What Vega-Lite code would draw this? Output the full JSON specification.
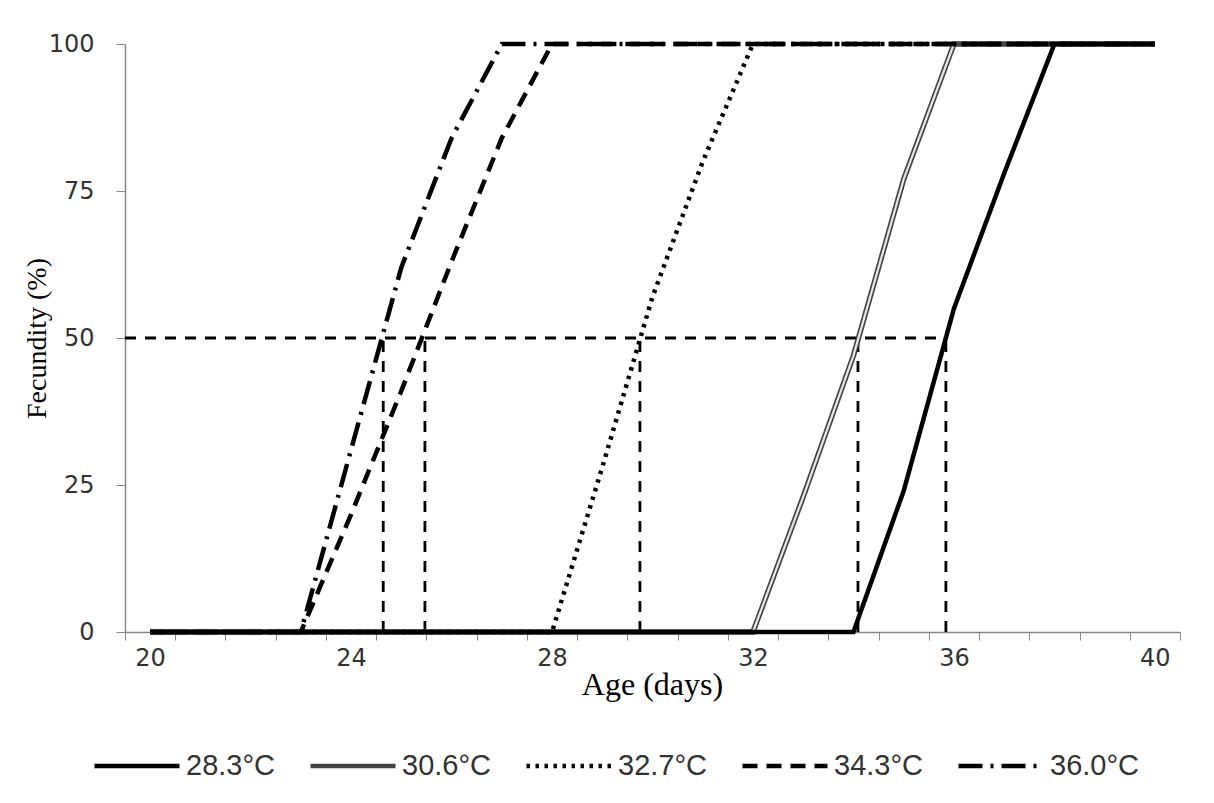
{
  "$schema": "https://vega.github.io/schema/vega-lite/v6.json",
  "autosize": {"type": "none"},
  "width": 1055,
  "height": 588,
  "padding": {"left": 125, "top": 44, "right": 34, "bottom": 171},
  "background": "white",
  "config": {
    "view": {"stroke": null},
    "axis": {"grid": false}
  },
  "datasets": {
    "curves": [
      {"series": "28.3°C", "day": 20, "fecundity": 0},
      {"series": "28.3°C", "day": 21, "fecundity": 0},
      {"series": "28.3°C", "day": 22, "fecundity": 0},
      {"series": "28.3°C", "day": 23, "fecundity": 0},
      {"series": "28.3°C", "day": 24, "fecundity": 0},
      {"series": "28.3°C", "day": 25, "fecundity": 0},
      {"series": "28.3°C", "day": 26, "fecundity": 0},
      {"series": "28.3°C", "day": 27, "fecundity": 0},
      {"series": "28.3°C", "day": 28, "fecundity": 0},
      {"series": "28.3°C", "day": 29, "fecundity": 0},
      {"series": "28.3°C", "day": 30, "fecundity": 0},
      {"series": "28.3°C", "day": 31, "fecundity": 0},
      {"series": "28.3°C", "day": 32, "fecundity": 0},
      {"series": "28.3°C", "day": 33, "fecundity": 0},
      {"series": "28.3°C", "day": 34, "fecundity": 0},
      {"series": "28.3°C", "day": 35, "fecundity": 24},
      {"series": "28.3°C", "day": 36, "fecundity": 55},
      {"series": "28.3°C", "day": 37, "fecundity": 78},
      {"series": "28.3°C", "day": 38, "fecundity": 100},
      {"series": "28.3°C", "day": 39, "fecundity": 100},
      {"series": "28.3°C", "day": 40, "fecundity": 100},
      {"series": "30.6°C", "day": 20, "fecundity": 0},
      {"series": "30.6°C", "day": 21, "fecundity": 0},
      {"series": "30.6°C", "day": 22, "fecundity": 0},
      {"series": "30.6°C", "day": 23, "fecundity": 0},
      {"series": "30.6°C", "day": 24, "fecundity": 0},
      {"series": "30.6°C", "day": 25, "fecundity": 0},
      {"series": "30.6°C", "day": 26, "fecundity": 0},
      {"series": "30.6°C", "day": 27, "fecundity": 0},
      {"series": "30.6°C", "day": 28, "fecundity": 0},
      {"series": "30.6°C", "day": 29, "fecundity": 0},
      {"series": "30.6°C", "day": 30, "fecundity": 0},
      {"series": "30.6°C", "day": 31, "fecundity": 0},
      {"series": "30.6°C", "day": 32, "fecundity": 0},
      {"series": "30.6°C", "day": 33, "fecundity": 23},
      {"series": "30.6°C", "day": 34, "fecundity": 47},
      {"series": "30.6°C", "day": 35, "fecundity": 77},
      {"series": "30.6°C", "day": 36, "fecundity": 100},
      {"series": "30.6°C", "day": 37, "fecundity": 100},
      {"series": "30.6°C", "day": 38, "fecundity": 100},
      {"series": "30.6°C", "day": 39, "fecundity": 100},
      {"series": "30.6°C", "day": 40, "fecundity": 100},
      {"series": "32.7°C", "day": 20, "fecundity": 0},
      {"series": "32.7°C", "day": 21, "fecundity": 0},
      {"series": "32.7°C", "day": 22, "fecundity": 0},
      {"series": "32.7°C", "day": 23, "fecundity": 0},
      {"series": "32.7°C", "day": 24, "fecundity": 0},
      {"series": "32.7°C", "day": 25, "fecundity": 0},
      {"series": "32.7°C", "day": 26, "fecundity": 0},
      {"series": "32.7°C", "day": 27, "fecundity": 0},
      {"series": "32.7°C", "day": 28, "fecundity": 0},
      {"series": "32.7°C", "day": 29, "fecundity": 28},
      {"series": "32.7°C", "day": 30, "fecundity": 57},
      {"series": "32.7°C", "day": 31, "fecundity": 80},
      {"series": "32.7°C", "day": 32, "fecundity": 100},
      {"series": "32.7°C", "day": 33, "fecundity": 100},
      {"series": "32.7°C", "day": 34, "fecundity": 100},
      {"series": "32.7°C", "day": 35, "fecundity": 100},
      {"series": "32.7°C", "day": 36, "fecundity": 100},
      {"series": "32.7°C", "day": 37, "fecundity": 100},
      {"series": "32.7°C", "day": 38, "fecundity": 100},
      {"series": "32.7°C", "day": 39, "fecundity": 100},
      {"series": "32.7°C", "day": 40, "fecundity": 100},
      {"series": "34.3°C", "day": 20, "fecundity": 0},
      {"series": "34.3°C", "day": 21, "fecundity": 0},
      {"series": "34.3°C", "day": 22, "fecundity": 0},
      {"series": "34.3°C", "day": 23, "fecundity": 0},
      {"series": "34.3°C", "day": 24, "fecundity": 20},
      {"series": "34.3°C", "day": 25, "fecundity": 41},
      {"series": "34.3°C", "day": 26, "fecundity": 63},
      {"series": "34.3°C", "day": 27, "fecundity": 84},
      {"series": "34.3°C", "day": 28, "fecundity": 100},
      {"series": "34.3°C", "day": 29, "fecundity": 100},
      {"series": "34.3°C", "day": 30, "fecundity": 100},
      {"series": "34.3°C", "day": 31, "fecundity": 100},
      {"series": "34.3°C", "day": 32, "fecundity": 100},
      {"series": "34.3°C", "day": 33, "fecundity": 100},
      {"series": "34.3°C", "day": 34, "fecundity": 100},
      {"series": "34.3°C", "day": 35, "fecundity": 100},
      {"series": "34.3°C", "day": 36, "fecundity": 100},
      {"series": "34.3°C", "day": 37, "fecundity": 100},
      {"series": "34.3°C", "day": 38, "fecundity": 100},
      {"series": "34.3°C", "day": 39, "fecundity": 100},
      {"series": "34.3°C", "day": 40, "fecundity": 100},
      {"series": "36.0°C", "day": 20, "fecundity": 0},
      {"series": "36.0°C", "day": 21, "fecundity": 0},
      {"series": "36.0°C", "day": 22, "fecundity": 0},
      {"series": "36.0°C", "day": 23, "fecundity": 0},
      {"series": "36.0°C", "day": 24, "fecundity": 31},
      {"series": "36.0°C", "day": 25, "fecundity": 62},
      {"series": "36.0°C", "day": 26, "fecundity": 84},
      {"series": "36.0°C", "day": 27, "fecundity": 100},
      {"series": "36.0°C", "day": 28, "fecundity": 100},
      {"series": "36.0°C", "day": 29, "fecundity": 100},
      {"series": "36.0°C", "day": 30, "fecundity": 100},
      {"series": "36.0°C", "day": 31, "fecundity": 100},
      {"series": "36.0°C", "day": 32, "fecundity": 100},
      {"series": "36.0°C", "day": 33, "fecundity": 100},
      {"series": "36.0°C", "day": 34, "fecundity": 100},
      {"series": "36.0°C", "day": 35, "fecundity": 100},
      {"series": "36.0°C", "day": 36, "fecundity": 100},
      {"series": "36.0°C", "day": 37, "fecundity": 100},
      {"series": "36.0°C", "day": 38, "fecundity": 100},
      {"series": "36.0°C", "day": 39, "fecundity": 100},
      {"series": "36.0°C", "day": 40, "fecundity": 100}
    ],
    "guides": [
      {"day_from": 19.5, "day_to": 35.84, "pct_from": 50, "pct_to": 50},
      {"day_from": 24.64, "day_to": 24.64, "pct_from": 0, "pct_to": 50},
      {"day_from": 25.47, "day_to": 25.47, "pct_from": 0, "pct_to": 50},
      {"day_from": 29.75, "day_to": 29.75, "pct_from": 0, "pct_to": 50},
      {"day_from": 34.09, "day_to": 34.09, "pct_from": 0, "pct_to": 50},
      {"day_from": 35.84, "day_to": 35.84, "pct_from": 0, "pct_to": 50}
    ]
  },
  "layer": [
    {
      "data": {"name": "guides"},
      "mark": {"type": "rule", "color": "black", "strokeWidth": 2.8, "strokeDash": [11, 9]},
      "encoding": {
        "x": {
          "field": "day_from", "type": "quantitative",
          "scale": {"domain": [19.5, 40.5], "nice": false, "zero": false},
          "axis": {
            "title": "Age (days)",
            "values": [19.5, 20.5, 21.5, 22.5, 23.5, 24.5, 25.5, 26.5, 27.5, 28.5, 29.5, 30.5, 31.5, 32.5, 33.5, 34.5, 35.5, 36.5, 37.5, 38.5, 39.5, 40.5],
            "labelExpr": "(datum.value + 0.5) % 4 === 0 ? format(datum.value + 0.5, 'd') : ''",
            "labelOffset": 25.1,
            "labelFlush": false,
            "labelOverlap": false,
            "labelFont": "DejaVu Sans",
            "labelFontSize": 24,
            "labelColor": "#333",
            "labelPadding": 6,
            "tickSize": 8,
            "tickColor": "#888",
            "domainColor": "#888",
            "domainWidth": 1.5,
            "titleFont": "Liberation Serif",
            "titleFontSize": 32,
            "titleFontWeight": "normal",
            "titleColor": "black",
            "titleX": 527,
            "titleY": 52,
            "titleBaseline": "middle"
          }
        },
        "x2": {"field": "day_to"},
        "y": {
          "field": "pct_from", "type": "quantitative",
          "scale": {"domain": [0, 100], "nice": false},
          "axis": {
            "title": "Fecundity (%)",
            "values": [0, 25, 50, 75, 100],
            "labelFont": "DejaVu Sans",
            "labelFontSize": 24,
            "labelColor": "#333",
            "labelPadding": 22,
            "tickSize": 9,
            "tickColor": "#888",
            "domainColor": "#888",
            "domainWidth": 1.5,
            "titleFont": "Liberation Serif",
            "titleFontSize": 28,
            "titleFontWeight": "normal",
            "titleColor": "black",
            "titleX": -88,
            "titleY": 294,
            "titleBaseline": "middle"
          }
        },
        "y2": {"field": "pct_to"}
      }
    },
    {
      "data": {"name": "curves"},
      "transform": [{"filter": "datum.series === '30.6°C'"}],
      "mark": {"type": "line", "strokeWidth": 5.5, "strokeCap": "butt", "strokeJoin": "miter"},
      "encoding": {
        "x": {"field": "day", "type": "quantitative"},
        "y": {"field": "fecundity", "type": "quantitative"},
        "color": {
          "field": "series", "type": "nominal",
          "scale": {"domain": ["28.3°C", "30.6°C", "32.7°C", "34.3°C", "36.0°C"], "range": ["black", "#444444", "black", "black", "black"]},
          "legend": {
            "title": null,
            "orient": "none",
            "legendX": -33,
            "legendY": 677,
            "direction": "horizontal",
            "columns": 5,
            "symbolType": "stroke",
            "symbolSize": 7225,
            "symbolStrokeWidth": 4.5,
            "labelFont": "Liberation Sans",
            "labelFontSize": 29,
            "labelColor": "#333",
            "labelOffset": 4,
            "columnPadding": 26
          }
        },
        "strokeDash": {
          "field": "series", "type": "nominal",
          "scale": {"domain": ["28.3°C", "30.6°C", "32.7°C", "34.3°C", "36.0°C"], "range": [[1, 0], [1, 0], [3.5, 5.5], [15, 9], [24, 8, 3, 8]]},
          "legend": null
        },
        "order": {"field": "day"}
      }
    },
    {
      "data": {"name": "curves"},
      "transform": [{"filter": "datum.series === '30.6°C' && datum.day >= 32 && datum.day <= 36"}],
      "mark": {"type": "line", "strokeWidth": 2.2, "color": "#e6e6e6", "strokeCap": "butt"},
      "encoding": {
        "x": {"field": "day", "type": "quantitative"},
        "y": {"field": "fecundity", "type": "quantitative"},
        "order": {"field": "day"}
      }
    },
    {
      "data": {"name": "curves"},
      "transform": [{"filter": "datum.series !== '30.6°C'"}],
      "mark": {"type": "line", "strokeWidth": 4.5, "strokeCap": "butt", "strokeJoin": "miter"},
      "encoding": {
        "x": {"field": "day", "type": "quantitative"},
        "y": {"field": "fecundity", "type": "quantitative"},
        "color": {"field": "series", "type": "nominal"},
        "strokeDash": {"field": "series", "type": "nominal", "legend": null},
        "order": {"field": "day"}
      }
    }
  ]
}
